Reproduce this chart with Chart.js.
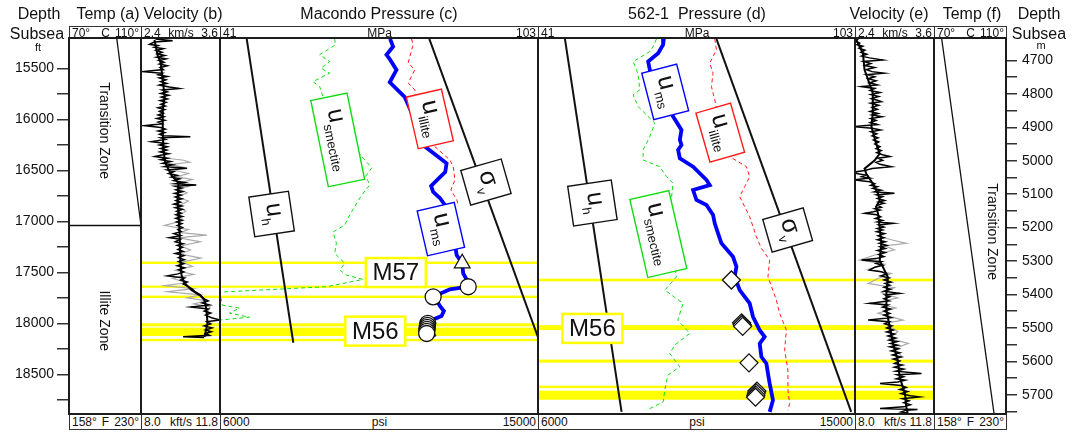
<!DOCTYPE html>
<html>
<head>
<meta charset="utf-8">
<title>Macondo and 562-1 pressure profiles</title>
<script src="https://cdn.jsdelivr.net/npm/chart.js@4.4.1/dist/chart.umd.min.js"></script>
<style>
  html,body{margin:0;padding:0;background:#fff;}
  #fig{position:relative;width:1083px;height:433px;overflow:hidden;font-family:"Liberation Sans",Arial,sans-serif;color:#111;}
  #fig canvas{position:absolute;top:0;}
  .ttl{position:absolute;font-size:16px;line-height:16px;white-space:pre;transform:translateX(-50%);z-index:4;}
  .strip{position:absolute;box-sizing:border-box;border:1px solid #333;background:#fff;display:grid;grid-template-columns:1fr auto 1fr;align-items:center;font-size:12px;line-height:12px;padding:0 2px;white-space:nowrap;z-index:2;}
  .strip span:first-child{justify-self:start}
  .strip span:last-child{justify-self:end}
  .frame{position:absolute;box-sizing:border-box;border:2px solid #1c1c1c;z-index:3;pointer-events:none;}
</style>
</head>
<body>
<div id="fig"></div>
<script>
// ---------------- data (depth in ft subsea) ----------------
const ftTicks  = [15500,15750,16000,16250,16500,16750,17000,17250,17500,17750,18000,18250,18500,18750];
const ftLabels = [15500,16000,16500,17000,17500,18000,18500];
const mTicks   = [4700,4750,4800,4850,4900,4950,5000,5050,5100,5150,5200,5250,5300,5350,5400,5450,5500,5550,5600,5650,5700,5750];
const mLabels  = [4700,4800,4900,5000,5100,5200,5300,5400,5500,5600,5700];

const tempRangeC   = [70, 110];
const tempRangeF   = [158, 230];
const velRangeKms  = [2.4, 3.6];
const velRangeKfts = [8.0, 11.8];
const presRangeMPa = [41, 103];
const presRangePsi = [6000, 15000];

// temperature profiles [depth, degC]
const tempA    = [[15200, 96.5], [17040, 110]];
const zoneBase = [[17040, 70], [17040, 110]];
const tempF    = [[15200, 74.2], [18890, 103.4]];

// sonic velocity, Macondo [depth, km/s]
const velB = [[15210,2.62],[15228,2.88],[15240,2.60],[15262,2.53],[15275,2.66],[15290,2.60],[15305,2.74],[15322,2.63],[15340,2.72],[15355,2.65],[15372,2.76],[15388,2.64],[15405,2.78],[15420,2.67],[15438,2.75],[15455,2.68],[15472,2.80],[15490,2.69],[15510,2.74],[15530,2.41],[15545,2.72],[15560,2.66],[15578,2.80],[15592,2.68],[15610,2.78],[15628,2.70],[15645,2.79],[15662,2.68],[15680,2.83],[15695,2.98],[15710,2.72],[15728,2.80],[15745,2.70],[15762,2.82],[15780,2.71],[15798,2.80],[15815,2.69],[15832,2.78],[15850,2.70],[15868,2.77],[15885,2.66],[15902,2.76],[15920,2.68],[15938,2.74],[15955,2.66],[15972,2.75],[15990,2.64],[16008,2.76],[16025,2.66],[16042,2.72],[16060,2.46],[16078,2.70],[16095,2.77],[16112,2.66],[16128,2.76],[16145,2.68],[16160,2.74],[16168,3.15],[16180,2.70],[16195,2.77],[16217,2.56],[16235,2.78],[16250,2.68],[16268,2.80],[16285,2.70],[16300,2.79],[16318,2.69],[16335,2.82],[16350,2.70],[16364,2.61],[16380,2.80],[16395,2.70],[16412,2.85],[16430,2.73],[16445,2.88],[16462,2.76],[16478,3.10],[16495,2.80],[16512,2.90],[16530,2.82],[16548,2.95],[16565,2.86],[16582,2.99],[16600,2.90],[16618,3.06],[16630,2.93],[16642,3.24],[16655,2.92],[16672,3.02],[16690,2.93],[16708,3.03],[16725,2.91],[16742,3.01],[16760,2.92],[16778,3.02],[16795,2.93],[16812,3.00],[16830,2.90],[16848,3.02],[16865,2.92],[16882,3.03],[16900,2.94],[16918,3.01],[16935,2.93],[16952,3.03],[16970,2.93],[16988,3.02],[17005,2.94],[17022,3.02],[17040,2.95],[17060,3.03],[17080,2.96],[17100,3.01],[17120,2.90],[17140,3.00],[17160,2.83],[17175,3.00],[17200,2.92],[17220,3.04],[17235,2.95],[17255,3.03],[17275,2.96],[17295,3.04],[17315,2.92],[17335,3.05],[17355,2.97],[17375,3.06],[17395,2.97],[17415,3.05],[17435,2.95],[17455,3.06],[17475,2.97],[17495,3.05],[17515,2.96],[17535,2.80],[17555,3.06],[17575,3.00],[17595,3.10],[17615,3.04],[17640,3.12],[17665,3.18],[17690,3.22],[17715,3.29],[17740,3.33],[17760,3.36],[17780,3.42],[17800,3.33],[17820,3.44],[17840,3.16],[17860,3.42],[17880,3.36],[17900,3.46],[17920,3.38],[17945,3.47],[17968,3.60],[17985,3.40],[18005,3.46],[18025,3.36],[18045,3.48],[18065,3.38],[18082,3.47],[18100,3.38],[18118,3.44],[18133,3.04],[18140,3.36]];
const velBTrend = [[15218,2.605],[15365,2.65],[15444,2.70],[15611,2.73],[15778,2.76],[15906,2.73],[16102,2.73],[16299,2.74],[16426,2.77],[16544,2.86],[16623,2.97],[16790,2.955],[17084,2.985],[17409,3.00],[17527,3.015],[17605,3.06],[17674,3.17],[17723,3.29],[17772,3.365],[17870,3.395],[17998,3.41],[18135,3.365]];
const velBGray = [[16380,2.80],[16400,3.05],[16420,3.14],[16440,2.85],[16470,3.05],[16500,2.92],[16530,3.12],[16560,2.95],[16590,3.18],[16620,3.00],[16650,3.15],[16680,2.98],[16720,3.10],[16760,2.95],[16800,3.12],[16850,2.96],[16900,3.08],[16950,2.95],[16990,3.05],[17040,2.76],[17080,3.12],[17110,3.00],[17135,3.40],[17160,2.98],[17200,3.30],[17240,3.00],[17280,3.15],[17320,3.00],[17360,3.31],[17400,3.02],[17440,3.18],[17480,2.92],[17520,3.20],[17560,2.88],[17600,3.10],[17630,2.76],[17660,3.20],[17690,2.80],[17720,3.30],[17750,3.10],[17780,3.40],[17810,3.20],[17840,3.45],[17900,3.40]];

// sonic velocity, 562-1 [depth, km/s]
const velE = [[15200,2.41],[15215,2.44],[15230,2.40],[15250,2.47],[15265,2.43],[15280,2.52],[15300,2.46],[15320,2.55],[15340,2.49],[15360,2.58],[15378,2.50],[15395,2.62],[15415,2.82],[15430,2.53],[15450,2.64],[15470,2.55],[15490,2.70],[15510,2.57],[15530,2.66],[15545,2.84],[15560,2.58],[15580,2.70],[15600,2.60],[15620,2.72],[15640,2.62],[15660,2.74],[15677,2.50],[15695,2.70],[15715,2.63],[15735,2.78],[15755,2.64],[15775,2.76],[15795,2.65],[15810,2.74],[15824,2.80],[15840,2.64],[15860,2.76],[15880,2.66],[15900,2.74],[15920,2.63],[15940,2.75],[15955,2.66],[15972,2.81],[15990,2.64],[16010,2.72],[16030,2.63],[16050,2.74],[16070,2.39],[16085,2.66],[16102,2.79],[16120,2.64],[16140,2.73],[16160,2.66],[16180,2.75],[16200,2.68],[16220,2.76],[16240,2.70],[16266,2.78],[16285,2.72],[16305,2.80],[16325,2.73],[16345,2.82],[16364,2.93],[16380,2.75],[16400,2.82],[16420,2.72],[16440,2.78],[16463,2.95],[16480,2.66],[16500,2.55],[16512,2.42],[16527,2.40],[16545,2.56],[16561,2.50],[16575,2.62],[16593,2.39],[16610,2.62],[16630,2.70],[16645,2.64],[16659,2.74],[16675,2.67],[16695,2.80],[16710,2.70],[16724,3.00],[16740,2.73],[16757,2.82],[16775,2.74],[16795,2.85],[16810,2.76],[16822,2.84],[16840,2.74],[16860,2.80],[16875,2.70],[16888,2.78],[16905,2.68],[16920,2.55],[16935,2.73],[16954,2.79],[16970,2.71],[16990,2.82],[17005,2.74],[17019,2.98],[17035,2.76],[17055,2.84],[17070,2.74],[17084,2.82],[17100,2.73],[17120,2.85],[17140,2.75],[17160,2.84],[17180,2.74],[17200,2.86],[17215,2.77],[17235,2.88],[17248,2.78],[17265,2.86],[17285,2.74],[17305,2.86],[17325,2.76],[17345,2.84],[17365,2.72],[17379,2.50],[17395,2.80],[17412,2.72],[17430,2.82],[17450,2.70],[17477,2.62],[17495,2.80],[17515,2.88],[17535,2.79],[17555,2.92],[17575,2.84],[17595,2.95],[17608,2.86],[17625,2.93],[17645,2.84],[17665,2.94],[17685,2.84],[17706,3.08],[17722,2.86],[17740,2.93],[17760,2.84],[17780,2.92],[17804,2.62],[17820,2.90],[17840,2.82],[17860,2.94],[17880,2.84],[17903,2.93],[17920,2.84],[17945,2.95],[17968,2.60],[17985,2.92],[18005,2.85],[18025,2.96],[18045,2.88],[18066,2.98],[18085,2.88],[18105,3.00],[18125,2.90],[18145,3.02],[18165,2.92],[18180,3.04],[18197,2.94],[18215,3.05],[18231,2.93],[18250,3.06],[18270,2.95],[18290,3.08],[18310,2.97],[18330,3.10],[18350,2.98],[18370,3.08],[18394,3.00],[18410,3.12],[18430,3.00],[18450,3.14],[18470,3.02],[18492,3.41],[18505,3.04],[18525,3.14],[18545,3.03],[18558,3.16],[18575,3.05],[18590,2.78],[18610,3.10],[18630,3.18],[18650,3.08],[18670,3.20],[18690,3.10],[18710,3.24],[18722,3.38],[18740,3.12],[18760,3.22],[18780,3.14],[18800,3.24],[18820,3.14],[18836,2.78],[18845,3.35],[18852,3.18],[18870,3.10],[18880,3.20]];
const velETrend = [[15218,2.42],[15350,2.52],[15513,2.545],[15740,2.67],[15937,2.67],[16070,2.65],[16236,2.72],[16335,2.775],[16400,2.70],[16482,2.545],[16531,2.57],[16629,2.67],[16728,2.75],[16793,2.775],[16858,2.72],[16924,2.75],[17055,2.775],[17219,2.80],[17383,2.775],[17547,2.90],[17711,2.877],[17875,2.877],[18039,2.93],[18202,2.98],[18366,3.05],[18530,3.08],[18694,3.16],[18825,3.18],[18880,3.20]];
const velEGray = [[17150,2.80],[17180,2.95],[17215,3.18],[17240,2.85],[17280,3.00],[17330,2.70],[17379,2.47],[17420,2.85],[17470,2.60],[17510,2.95],[17560,2.75],[17608,2.60],[17650,3.00],[17700,2.80],[17750,3.05],[17800,2.70],[17850,3.02],[17900,2.75],[17968,3.13],[18000,2.85],[18080,3.05],[18150,2.92],[18197,3.21],[18250,3.00],[18330,3.12]];

// Macondo pressures [depth, psi]
const hydroC = [[15208,6756],[18191,8075]];
const overC  = [[15208,11924],[18135,15000]];
const msC    = [[15208,10814],[15284,10899],[15365,10712],[15408,10805],[15513,10995],[15634,10805],[15781,11231],[16004,11514],[16266,11798],[16429,12413],[16515,12374],[16593,12147],[16652,11975],[16711,12033],[16770,12223],[16839,12365],[17084,12587],[17330,12697],[17411,12855],[17510,12883],[17575,12987],[17641,13025],[17667,12506],[17740,12033],[17770,12125],[17830,12223],[17880,12336],[17929,12270],[17963,12033],[18000,11880],[18133,12081]];
const illC   = [[15208,11421],[15267,11466],[15444,11325],[15513,11514],[15641,11325],[15709,11514],[16000,11750],[16266,12081],[16397,12506],[16463,12601],[16593,12649],[16692,12535],[16790,12705],[16839,12734]];
const smC    = [[15208,9246],[15267,9266],[15365,8821],[15431,9104],[15496,8857],[15545,9104],[15628,8631],[15677,8821],[15775,8914],[16102,9388],[16397,10097],[16475,10295],[16554,10126],[16642,10239],[16741,10012],[16839,9841],[16937,9671],[17035,9530],[17104,9198],[17213,9294],[17313,9246],[17411,9530],[17477,9388],[17527,9578],[17569,10048],[17641,9011],[17694,5990],[17822,6071],[17851,6553],[17900,6269],[17940,6836],[17968,5990]];
const circC  = [[17641,13025],[17740,12033],[18000,11880],[18020,11870],[18040,11862],[18060,11858],[18080,11852],[18100,11850]];
const triC   = [[17411,12855]];

// 562-1 pressures [depth, psi]
const hydroD = [[15208,6765],[18869,8373]];
const overD  = [[15208,11066],[18869,14892]];
const msD    = [[15208,9572],[15267,9552],[15349,9411],[15431,9127],[15513,9175],[15729,9515],[15971,9836],[16102,10074],[16200,10026],[16250,10074],[16299,9978],[16380,10026],[16463,10403],[16593,10783],[16643,10876],[16692,10403],[16790,10499],[16839,10783],[16937,10970],[17019,11018],[17117,11112],[17215,11208],[17347,11537],[17445,11633],[17543,11585],[17674,11727],[17805,12010],[17936,12104],[18067,12294],[18133,12435],[18198,12294],[18329,12342],[18394,12484],[18492,12529],[18590,12577],[18754,12671],[18869,12577]];
const illD   = [[15208,11018],[15316,11066],[15447,10876],[15545,10970],[15677,10924],[15807,11018],[16124,11216],[16364,11443],[16463,11917],[16561,12010],[16659,11868],[16757,11727],[16954,12010],[17150,12200],[17264,12342],[17379,12577],[17543,12529],[17772,12767],[17903,12861],[18066,13051],[18263,13003],[18460,13096],[18656,13096],[18787,13144],[18853,13096]];
const smD    = [[15208,9365],[15284,9269],[15333,9175],[15431,8702],[15513,8798],[15562,8843],[15709,8892],[15758,8702],[15873,8843],[15955,9082],[16036,9317],[16168,9175],[16299,8985],[16397,8985],[16463,9459],[16561,9649],[16626,9836],[17084,9686],[17543,9932],[17674,9600],[17805,10119],[17968,9969],[18099,10309],[18213,9884],[18296,9742],[18427,10026],[18509,9686],[18656,9600],[18771,9552],[18853,9082]];
const diaD   = [[17575,11491],[17995,11780],[18012,11795],[18030,11810],[18388,11990],[18665,12215],[18685,12200],[18705,12185],[18725,12175]];

// sand intervals [top, base] in ft
const sandsMacondo = [[17394,17418],[17630,17652],[17728,17752],[18000,18030],[18042,18125],[18152,18176]];
const sands562     = [[17562,17588],[18018,18066],[18356,18386],[18612,18636],[18661,18750]];

// ---------------- layout / style ----------------
const DEPTH_TOP = 15200, DEPTH_BASE = 18890, FT_TO_M = 0.3048;
const FONT = '"Liberation Sans", Arial, sans-serif';
Chart.defaults.font.family = FONT;
Chart.defaults.color = '#111';

const BLUE = '#0000ff', RED = '#ff1a1a', GREEN = '#10dd10', BLACK = '#111';
const fig = document.getElementById('fig');

const panelDefs = [
  {x0:69,  x1:141,  top:[tempRangeC[0]+'°','C',tempRangeC[1]+'°'], bot:[tempRangeF[0]+'°','F',tempRangeF[1]+'°']},
  {x0:141, x1:220,  top:[velRangeKms[0].toFixed(1),'km/s',velRangeKms[1].toFixed(1)], bot:[velRangeKfts[0].toFixed(1),'kft/s',velRangeKfts[1].toFixed(1)]},
  {x0:220, x1:538,  top:[String(presRangeMPa[0]),'MPa',String(presRangeMPa[1])], bot:[String(presRangePsi[0]),'psi',String(presRangePsi[1])]},
  {x0:538, x1:855,  top:[String(presRangeMPa[0]),'MPa',String(presRangeMPa[1])], bot:[String(presRangePsi[0]),'psi',String(presRangePsi[1])]},
  {x0:855, x1:934,  top:[velRangeKms[0].toFixed(1),'km/s',velRangeKms[1].toFixed(1)], bot:[velRangeKfts[0].toFixed(1),'kft/s',velRangeKfts[1].toFixed(1)]},
  {x0:934, x1:1006, top:[tempRangeC[0]+'°','C',tempRangeC[1]+'°'], bot:[tempRangeF[0]+'°','F',tempRangeF[1]+'°']}
];

const titles = [
  {t:'Depth', x:39, y:6}, {t:'Subsea', x:37, y:26}, {t:'ft', x:38, y:42, s:11},
  {t:'Temp (a)', x:108, y:6}, {t:'Velocity (b)', x:183, y:6},
  {t:'Macondo Pressure (c)', x:379, y:6}, {t:'562-1  Pressure (d)', x:697, y:6},
  {t:'Velocity (e)', x:889, y:6}, {t:'Temp (f)', x:972, y:6},
  {t:'Depth', x:1039, y:6}, {t:'Subsea', x:1039, y:26}, {t:'m', x:1041, y:40, s:11}
];

// ---------------- helpers ----------------
function pts(pairs) { return pairs.map(p => ({x: p[1], y: p[0]})); }
function trace(pairs, color, width, dash, order) {
  return {data: pts(pairs), showLine: true, borderColor: color, borderWidth: width,
          borderDash: dash || [], pointRadius: 0, tension: 0, fill: false, order: order || 5};
}
function markers(pairs, style, radius, order) {
  return {data: pts(pairs), showLine: false, pointStyle: style, pointRadius: radius,
          pointBackgroundColor: '#fff', pointBorderColor: BLACK, pointBorderWidth: 1.3, order: order || 0};
}
function addCanvas(left, width) {
  const c = document.createElement('canvas');
  c.width = width; c.height = 433;
  c.style.left = left + 'px'; c.style.width = width + 'px'; c.style.height = '433px';
  fig.appendChild(c);
  return c.getContext('2d');
}
function hidden(min, max) { return {type:'linear', min, max, display:false}; }
function depthScale() { return {type:'linear', min:DEPTH_TOP, max:DEPTH_BASE, reverse:true, display:false}; }
function axisScale(min, max, ticks, labels, pos, width, tickLen, pad) {
  return {
    type:'linear', min, max, reverse:true, position:pos,
    afterBuildTicks: s => { s.ticks = ticks.map(v => ({value: v})); },
    afterFit: s => { s.width = width; },
    ticks: {autoSkip:false, padding:pad, font:{size:14}, color:'#111',
            callback: v => labels.includes(Math.round(v)) ? String(Math.round(v)) : ''},
    grid: {drawOnChartArea:false, drawTicks:true, tickLength:tickLen, color:'#333', lineWidth:1.5},
    border: {display:true, color:'#1c1c1c', width:2}
  };
}
function options(scales) {
  return {
    responsive:false, animation:false, devicePixelRatio:1, events:[],
    layout:{autoPadding:false, padding:{top:38, bottom:19, left:0, right:0}},
    plugins:{legend:{display:false}, tooltip:{enabled:false}},
    scales
  };
}
function sandPlugin(list) {
  return {id:'sands', beforeDatasetsDraw(chart) {
    const {ctx, chartArea:a, scales:{y}} = chart;
    ctx.save(); ctx.fillStyle = '#ffff00';
    list.forEach(b => {
      const y0 = y.getPixelForValue(b[0]), y1 = y.getPixelForValue(b[1]);
      ctx.fillRect(a.left, y0, a.right - a.left, y1 - y0);
    });
    ctx.restore();
  }};
}
function zonePlugin(items) {
  return {id:'zones', afterDatasetsDraw(chart) {
    const {ctx, scales:{x, y}} = chart;
    ctx.save(); ctx.font = '14px ' + FONT; ctx.fillStyle = '#111';
    ctx.textAlign = 'center'; ctx.textBaseline = 'middle';
    items.forEach(it => {
      ctx.save();
      ctx.translate(x.getPixelForValue(it.x), y.getPixelForValue(it.depth));
      ctx.rotate(Math.PI / 2);
      ctx.fillText(it.text, 0, 0);
      ctx.restore();
    });
    ctx.restore();
  }};
}
// rotated curve tags (u_h, u_ms ...) and sand name boards
function tagPlugin(tags, boards) {
  return {id:'tags', afterDatasetsDraw(chart) {
    const {ctx, scales:{x, y}} = chart;
    tags.forEach(t => {
      ctx.save();
      ctx.translate(x.getPixelForValue(t.psi), y.getPixelForValue(t.depth));
      ctx.rotate((90 + t.tilt) * Math.PI / 180);
      ctx.beginPath(); ctx.rect(-t.along / 2, -t.across / 2, t.along, t.across);
      ctx.fillStyle = '#fff'; ctx.fill();
      ctx.strokeStyle = t.color; ctx.lineWidth = 1.4; ctx.stroke();
      ctx.fillStyle = '#111'; ctx.textAlign = 'left'; ctx.textBaseline = 'alphabetic';
      ctx.font = '25px ' + FONT; const mw = ctx.measureText(t.main).width;
      ctx.font = '13px ' + FONT; const sw = ctx.measureText(t.sub).width;
      const x0 = -(mw + sw) / 2;
      ctx.font = '25px ' + FONT; ctx.fillText(t.main, x0, 4);
      ctx.font = '13px ' + FONT; ctx.fillText(t.sub, x0 + mw, 11);
      ctx.restore();
    });
    boards.forEach(b => {
      const px = x.getPixelForValue(b.psi), py = y.getPixelForValue(b.depth);
      ctx.save();
      ctx.fillStyle = '#fff'; ctx.fillRect(px - 30, py - 14.5, 60, 29);
      ctx.strokeStyle = '#ffff00'; ctx.lineWidth = 2.5; ctx.strokeRect(px - 30, py - 14.5, 60, 29);
      ctx.fillStyle = '#111'; ctx.font = '24px ' + FONT; ctx.textAlign = 'center'; ctx.textBaseline = 'middle';
      ctx.fillText(b.text, px, py + 1);
      ctx.restore();
    });
  }};
}

// ---------------- panel (a): temperature + ft depth axis ----------------
new Chart(addCanvas(0, 141), {
  type:'scatter',
  data:{datasets:[ trace(tempA, BLACK, 1.3), trace(zoneBase, BLACK, 1.5) ]},
  options: options({
    x: hidden(tempRangeC[0], tempRangeC[1]),
    y: axisScale(DEPTH_TOP, DEPTH_BASE, ftTicks, ftLabels, 'left', 69, 12, 3)
  }),
  plugins:[zonePlugin([{text:'Transition Zone', x:89.5, depth:16110}, {text:'Illite Zone', x:89.5, depth:17975}])]
});

// ---------------- panel (b): Macondo velocity ----------------
new Chart(addCanvas(141, 79), {
  type:'scatter',
  data:{datasets:[
    trace(velBTrend, '#000', 2, [], 1),
    trace(velB, '#000', 1.5, [], 2),
    trace(velBGray, '#aaaaaa', 1.2, [], 3)
  ]},
  options: options({ x: hidden(velRangeKms[0], velRangeKms[1]), y: depthScale() }),
  plugins:[sandPlugin(sandsMacondo)]
});

// ---------------- panel (c): Macondo pressure ----------------
new Chart(addCanvas(220, 318), {
  type:'scatter',
  data:{datasets:[
    markers(triC, 'triangle', 9, 0),
    markers(circC, 'circle', 8, 0),
    trace(msC, BLUE, 3.8, [], 1),
    trace(illC, RED, 1, [4, 3], 2),
    trace(smC, GREEN, 1, [4, 3], 2),
    trace(hydroC, BLACK, 2, [], 3),
    trace(overC, BLACK, 2, [], 3)
  ]},
  options: options({ x: hidden(presRangePsi[0], presRangePsi[1]), y: depthScale() }),
  plugins:[sandPlugin(sandsMacondo), tagPlugin([
    {main:'u', sub:'h',        depth:16927, psi:7460,  tilt:-8.5, along:40, across:40, color:BLACK},
    {main:'u', sub:'smectite', depth:16200, psi:9331,  tilt:-11.5, along:88, across:37, color:GREEN},
    {main:'u', sub:'illite',   depth:15994, psi:11939, tilt:-13,  along:53, across:36, color:RED},
    {main:'u', sub:'ms',       depth:17075, psi:12251, tilt:-13,  along:46, across:38, color:BLUE},
    {main:'σ', sub:'v',        depth:16614, psi:13527, tilt:-16,  along:36, across:42, color:BLACK}
  ], [
    {text:'M57', depth:17502, psi:10975},
    {text:'M56', depth:18077, psi:10394}
  ])]
});

// ---------------- panel (d): 562-1 pressure ----------------
new Chart(addCanvas(538, 317), {
  type:'scatter',
  data:{datasets:[
    markers(diaD, 'rectRot', 9, 0),
    trace(msD, BLUE, 3.8, [], 1),
    trace(illD, RED, 1, [4, 3], 2),
    trace(smD, GREEN, 1, [4, 3], 2),
    trace(hydroD, BLACK, 2, [], 3),
    trace(overD, BLACK, 2, [], 3)
  ]},
  options: options({ x: hidden(presRangePsi[0], presRangePsi[1]), y: depthScale() }),
  plugins:[sandPlugin(sands562), tagPlugin([
    {main:'u', sub:'ms',       depth:15729, psi:9612,  tilt:-14.5, along:48, across:36, color:BLUE},
    {main:'u', sub:'illite',   depth:16129, psi:11174, tilt:-16,   along:51, across:36, color:RED},
    {main:'u', sub:'h',        depth:16819, psi:7545,  tilt:-8.5,  along:40, across:44, color:BLACK},
    {main:'u', sub:'smectite', depth:17124, psi:9416,  tilt:-13,   along:80, across:40, color:GREEN},
    {main:'σ', sub:'v',        depth:17084, psi:13088, tilt:-16,   along:34, across:42, color:BLACK}
  ], [
    {text:'M56', depth:18050, psi:7545}
  ])]
});

// ---------------- panel (e): 562-1 velocity ----------------
new Chart(addCanvas(855, 79), {
  type:'scatter',
  data:{datasets:[
    trace(velETrend, '#000', 2, [], 1),
    trace(velE, '#000', 1.5, [], 2),
    trace(velEGray, '#aaaaaa', 1.2, [], 3)
  ]},
  options: options({ x: hidden(velRangeKms[0], velRangeKms[1]), y: depthScale() }),
  plugins:[sandPlugin(sands562)]
});

// ---------------- panel (f): temperature + metre depth axis ----------------
new Chart(addCanvas(934, 149), {
  type:'scatter',
  data:{datasets:[ trace(tempF, BLACK, 1.3) ]},
  options: options({
    x: hidden(tempRangeC[0], tempRangeC[1]),
    y: depthScale(),
    ym: axisScale(DEPTH_TOP * FT_TO_M, DEPTH_BASE * FT_TO_M, mTicks, mLabels, 'right', 77, 11, 5)
  }),
  plugins:[zonePlugin([{text:'Transition Zone', x:102.4, depth:17100}])]
});

// ---------------- frames, scale strips, titles ----------------
panelDefs.forEach(p => {
  const w = p.x1 - p.x0;
  const mk = (cls, top, h, parts) => {
    const d = document.createElement('div');
    d.className = cls;
    d.style.left = (cls === 'frame' ? p.x0 - 1 : p.x0) + 'px';
    d.style.width = (cls === 'frame' ? w + 2 : w + 1) + 'px';
    d.style.top = top + 'px'; d.style.height = h + 'px';
    if (parts) parts.forEach(s => { const sp = document.createElement('span'); sp.textContent = s; d.appendChild(sp); });
    fig.appendChild(d);
  };
  mk('strip', 26, 13, p.top);
  mk('strip', 414, 16, p.bot);
  mk('frame', 37, 378);
});
titles.forEach(t => {
  const d = document.createElement('div');
  d.className = 'ttl'; d.textContent = t.t;
  d.style.left = t.x + 'px'; d.style.top = t.y + 'px';
  if (t.s) { d.style.fontSize = t.s + 'px'; d.style.lineHeight = t.s + 'px'; }
  fig.appendChild(d);
});
</script>
</body>
</html>
